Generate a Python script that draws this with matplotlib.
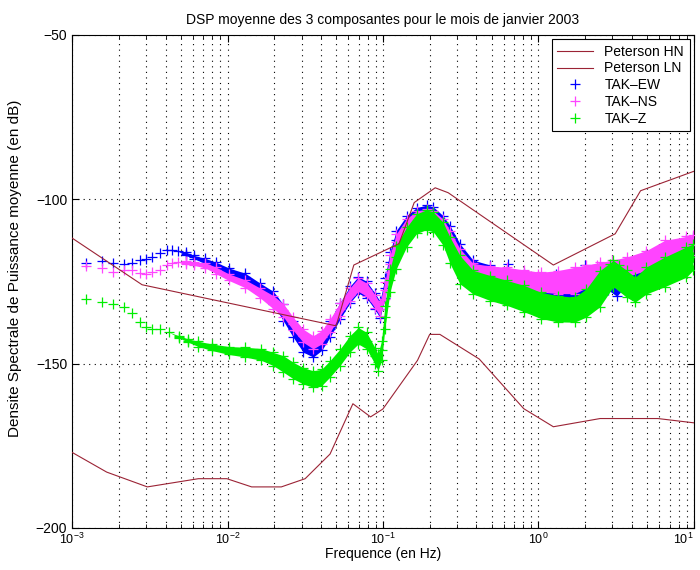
import numpy as np
import matplotlib
matplotlib.use("Agg")
import matplotlib.pyplot as plt
from matplotlib.ticker import LogLocator, NullFormatter

plt.rcParams['font.family'] = ['Liberation Sans', 'DejaVu Sans']

# ---------------- data ----------------
hn_f = [0.001, 0.00282, 0.05, 0.065, 0.127, 0.159, 0.217, 0.263, 1.25, 3.125, 4.55, 10.0]
hn_db = [-111.8, -126.0, -138.5, -120.0, -113.5, -101.0, -96.5, -98.0, -120.0, -110.5, -97.4, -91.5]

ln_f = [0.001, 0.00167, 0.00305, 0.0065, 0.0099, 0.0143, 0.0222, 0.0316, 0.0457, 0.0641,
        0.0833, 0.1, 0.167, 0.2, 0.2326, 0.417, 0.806, 1.25, 2.5, 5.88, 10.0]
ln_db = [-177.0, -183.0, -187.5, -185.0, -185.0, -187.5, -187.5, -185.0, -177.5, -162.2,
         -166.2, -163.8, -149.0, -141.1, -141.1, -148.6, -163.7, -169.2, -166.7, -166.7, -168.0]

ew_f = [0.00122, 0.00155, 0.00183, 0.00215, 0.00243, 0.00275, 0.00299, 0.00327, 0.0037, 0.0041,
        0.0044, 0.0048, 0.0054, 0.0061, 0.0072, 0.0084, 0.0102, 0.013, 0.0162, 0.0197,
        0.0229, 0.0265, 0.0307, 0.0356, 0.0403, 0.0456, 0.0529, 0.0613, 0.0694, 0.0785,
        0.0888, 0.0957, 0.103, 0.111, 0.122, 0.142, 0.165, 0.191, 0.211, 0.244,
        0.27, 0.313, 0.38, 0.49, 0.63, 0.81, 1.04, 1.33, 1.71, 2.04,
        2.49, 2.8, 3.2, 3.7, 4.2, 4.96, 6.5, 8.97, 9.9]
ew_db = [-119.3, -118.8, -119.3, -119.6, -119.3, -118.4, -118.1, -117.6, -116.4, -115.5,
         -115.3, -115.8, -116.6, -117.6, -118.8, -120.1, -121.9, -123.7, -127.0, -130.0,
         -134.5, -139.5, -144.0, -145.5, -143.5, -139.5, -134.0, -129.0, -126.0, -127.5,
         -131.0, -133.5, -127.0, -119.0, -112.5, -108.0, -105.5, -104.8, -105.3, -108.0,
         -111.0, -116.5, -121.5, -123.0, -124.5, -125.5, -126.5, -127.5, -127.5, -126.0,
         -124.0, -124.5, -127.0, -123.0, -121.5, -119.5, -117.0, -115.0, -114.5]
ew_spread = [0, 0, 0, 0, 0, 0, 0, 0, 0, 0,
             0, 0, 0.5, 0.5, 0.8, 1.0, 1.0, 1.2, 1.5, 2.0,
             2.5, 2.5, 2.5, 2.5, 2.5, 2.5, 2.5, 2.5, 2.5, 2.5,
             2.5, 2.5, 3.0, 3.0, 3.0, 3.0, 3.0, 3.0, 3.0, 3.0,
             3.0, 3.0, 3.0, 3.0, 3.0, 3.0, 3.0, 3.0, 3.0, 3.0,
             3.0, 3.0, 2.5, 3.0, 3.0, 3.0, 3.0, 3.0, 3.0]

ns_f = [0.00122, 0.00155, 0.00183, 0.00215, 0.00243, 0.00275, 0.00299, 0.00327, 0.0037, 0.0041,
        0.0044, 0.0048, 0.0054, 0.0061, 0.0072, 0.0084, 0.0102, 0.013, 0.0162, 0.0197,
        0.0229, 0.0265, 0.0307, 0.0356, 0.0403, 0.0456, 0.0529, 0.0613, 0.0694, 0.0785,
        0.0888, 0.0957, 0.103, 0.111, 0.122, 0.142, 0.165, 0.191, 0.211, 0.244,
        0.27, 0.313, 0.38, 0.49, 0.63, 0.81, 1.04, 1.33, 1.71, 2.04,
        2.49, 3.0, 3.7, 4.96, 6.5, 8.97, 9.9]
ns_db = [-120.3, -120.8, -122.2, -121.4, -121.6, -122.5, -122.7, -122.2, -121.4, -120.1,
         -119.3, -119.1, -119.3, -119.6, -120.1, -121.6, -123.7, -125.7, -128.5, -131.3,
         -133.8, -137.9, -141.5, -143.5, -142.0, -138.5, -133.5, -129.0, -126.0, -127.5,
         -131.0, -133.5, -127.7, -119.6, -113.0, -108.4, -106.0, -105.6, -106.0, -108.5,
         -112.0, -117.5, -122.0, -122.8, -123.5, -124.5, -125.2, -125.2, -124.7, -123.5,
         -122.5, -121.5, -120.6, -118.6, -116.0, -114.5, -114.0]
ns_spread = [0, 0, 0, 0, 0, 0, 0, 0, 0, 0,
             0, 0, 0.5, 0.5, 0.8, 1.0, 1.0, 1.2, 1.5, 2.0,
             2.0, 2.0, 2.0, 2.0, 2.0, 2.0, 2.0, 2.0, 2.0, 2.0,
             2.0, 2.0, 2.5, 2.5, 2.5, 2.5, 2.5, 2.5, 2.5, 2.5,
             2.5, 2.5, 2.5, 2.5, 2.8, 3.0, 3.0, 3.5, 4.0, 3.5,
             3.3, 3.0, 3.0, 3.0, 3.5, 3.2, 3.0]

z_f = [0.00122, 0.00155, 0.00183, 0.00215, 0.00243, 0.00275, 0.00299, 0.00327, 0.0037, 0.0042,
       0.00485, 0.0056, 0.0065, 0.0079, 0.0102, 0.013, 0.0165, 0.0197, 0.0229, 0.0265,
       0.0307, 0.0356, 0.0403, 0.0456, 0.0529, 0.0613, 0.0694, 0.0785, 0.0888, 0.093,
       0.098, 0.103, 0.111, 0.122, 0.142, 0.165, 0.191, 0.211, 0.244, 0.27,
       0.313, 0.38, 0.49, 0.63, 0.81, 1.04, 1.33, 1.71, 2.04, 2.49,
       3.04, 3.7, 4.2, 4.96, 6.5, 8.97, 9.9]
z_db = [-130.3, -131.1, -131.8, -132.8, -134.7, -137.4, -138.9, -139.4, -139.4, -140.4,
        -141.8, -143.0, -144.0, -145.0, -146.0, -146.5, -147.2, -148.6, -150.1, -152.1,
        -153.7, -154.7, -154.2, -151.6, -148.1, -144.0, -141.5, -143.0, -147.6, -149.6,
        -146.0, -135.9, -124.7, -117.6, -111.5, -107.4, -106.2, -106.9, -110.5, -115.5,
        -121.4, -125.2, -127.0, -128.5, -130.2, -132.3, -133.3, -133.6, -131.5, -127.2,
        -122.6, -125.7, -127.5, -124.7, -122.1, -119.1, -117.6]
z_spread = [0, 0, 0, 0, 0, 0, 0, 0, 0, 0,
            0.3, 0.5, 0.8, 1.0, 1.2, 1.5, 1.8, 2.0, 2.5, 2.5,
            2.5, 2.5, 2.5, 2.5, 2.5, 2.5, 2.5, 2.5, 2.5, 2.5,
            3.0, 3.5, 3.5, 3.5, 3.0, 3.0, 3.0, 3.0, 3.5, 4.0,
            4.3, 3.6, 3.8, 3.8, 4.0, 4.0, 4.0, 3.8, 4.3, 5.5,
            4.0, 4.1, 3.8, 4.1, 4.5, 4.6, 4.0]

# scattered isolated markers above the bands
ew_out_f = [0.29, 0.64, 1.3, 2.0, 4.4]
ew_out_db = [-116.5, -119.6, -122.7, -120.1, -118.6]
ns_out_f = [0.39, 0.99, 2.4]
ns_out_db = [-121.1, -122.7, -120.1]
z_out_f = [2.9, 3.3]
z_out_db = [-119.6, -120.0]

xticks = [1e-3, 1e-2, 1e-1, 1e0, 1e1]
yticks = [-50, -100, -150, -200]
ytick_labels = ['\u221250', '\u2212100', '\u2212150', '\u2212200']

# ---------------- figure ----------------
fig = plt.figure(figsize=(7.0, 5.7), dpi=100)
ax = fig.add_axes([0.103, 0.0737, 0.888, 0.865])

ax.set_xscale('log')
ax.set_xlim(1e-3, 10)
ax.set_ylim(-200, -50)

red = '#9b2335'
ax.plot(hn_f, hn_db, color=red, lw=0.8, label='Peterson HN', zorder=5)
ax.plot(ln_f, ln_db, color=red, lw=0.8, label='Peterson LN', zorder=5)

series = [
    (ew_f, ew_db, ew_spread, ew_out_f, ew_out_db, '#0000ff', 'TAK\u2013EW'),
    (ns_f, ns_db, ns_spread, ns_out_f, ns_out_db, '#ff44ff', 'TAK\u2013NS'),
    (z_f, z_db, z_spread, z_out_f, z_out_db, '#00ee00', 'TAK\u2013Z'),
]
for i, (f, d, s, of, od, c, lab) in enumerate(series):
    f = np.array(f)
    d = np.array(d)
    s = np.array(s)
    zo = 2 + i
    ax.fill_between(f, d - s, d + s, color=c, lw=0, zorder=zo)
    ax.plot(f, d, ls='none', marker='+', ms=7, mew=0.9, color=c, zorder=zo, label=lab)
    m = s > 0
    ax.plot(f[m], (d + s)[m], ls='none', marker='+', ms=7, mew=0.9, color=c, zorder=zo)
    ax.plot(f[m], (d - s)[m], ls='none', marker='+', ms=7, mew=0.9, color=c, zorder=zo)
    ax.plot(of, od, ls='none', marker='+', ms=7, mew=0.9, color=c, zorder=zo)

ax.set_xticks(xticks)
ax.xaxis.set_minor_locator(LogLocator(base=10, subs=np.arange(2, 10), numticks=20))
ax.xaxis.set_minor_formatter(NullFormatter())
ax.set_yticks(yticks)
ax.set_yticklabels(ytick_labels)

grid_ls = (0, (1, 4))
ax.grid(True, which='major', axis='both', ls=grid_ls, color='black', lw=0.8)
ax.grid(True, which='minor', axis='x', ls=grid_ls, color='black', lw=0.8)

ax.tick_params(which='both', direction='in', top=True, right=True, labelsize=10)
ax.tick_params(axis='x', which='major', labelsize=9, pad=3)
ax.tick_params(which='major', length=5)
ax.tick_params(which='minor', length=3)
for sp in ax.spines.values():
    sp.set_linewidth(0.8)

# keep the last x tick label inside the figure
fig.canvas.draw()
xlabels = ax.get_xticklabels()
xlabels[-1].set_horizontalalignment('right')
xlabels[-1].set_x(xticks[-1])

ax.set_title('DSP moyenne des 3 composantes pour le mois de janvier 2003', fontsize=10, pad=8)
ax.set_xlabel('Frequence (en Hz)', fontsize=10, labelpad=0)
ax.set_ylabel('Densite Spectrale de Puissance moyenne (en dB)', fontsize=11)
ax.yaxis.set_label_coords(-0.080, 0.527)

leg = ax.legend(loc='upper right', fontsize=10, fancybox=False, edgecolor='black',
                framealpha=1, borderaxespad=0.3, handlelength=2.6, labelspacing=0.2,
                borderpad=0.4)
leg.get_frame().set_linewidth(0.8)
leg.set_zorder(10)

fig.savefig('out.png', dpi=100)
